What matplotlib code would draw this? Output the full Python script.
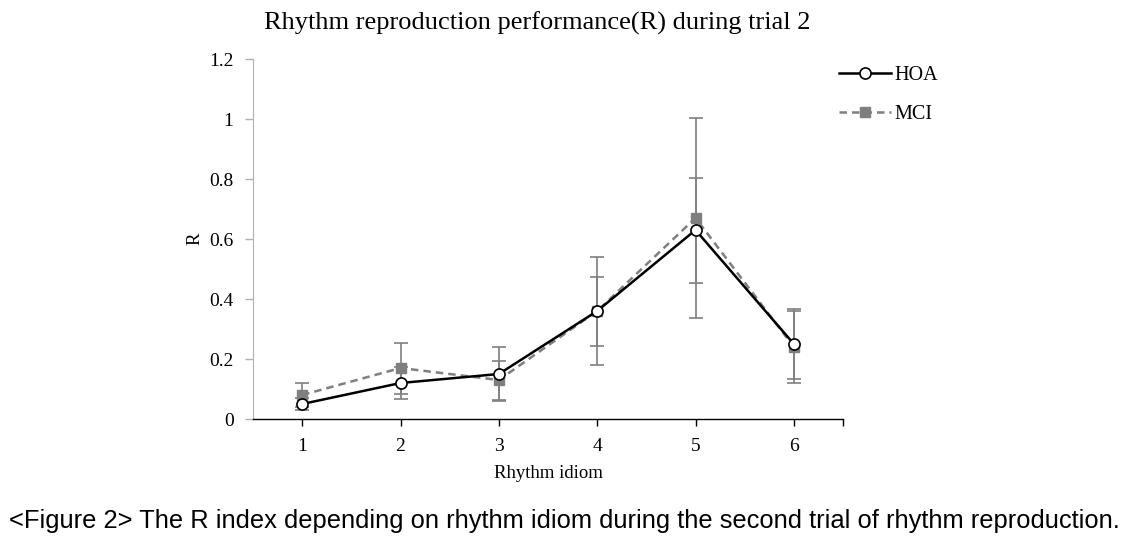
import numpy as np
import matplotlib
matplotlib.use('Agg')
import matplotlib.pyplot as plt

# values
idioms = [1, 2, 3, 4, 5, 6]
hoa_mean = [0.05, 0.12, 0.15, 0.36, 0.63, 0.25]
hoa_err = [0.02, 0.054, 0.09, 0.115, 0.175, 0.116]
mci_mean = [0.08, 0.17, 0.13, 0.36, 0.67, 0.24]
mci_err = [0.04, 0.085, 0.065, 0.18, 0.333, 0.12]
y_ticks = [0, 0.2, 0.4, 0.6, 0.8, 1.0, 1.2]
y_tick_labels = ['0', '0.2', '0.4', '0.6', '0.8', '1', '1.2']

serif = 'Liberation Serif'
gray = '#7f7f7f'

fig = plt.figure(figsize=(11.29, 5.48), dpi=100)
ax = fig.add_axes([0.2241, 0.2354, 0.5226, 0.6569])

# error bars first, then lines on top
ax.errorbar(idioms, mci_mean, yerr=mci_err, fmt='none', ecolor=gray,
            elinewidth=1.2, capsize=5, capthick=1.2, zorder=1)
ax.errorbar(idioms, hoa_mean, yerr=hoa_err, fmt='none', ecolor=gray,
            elinewidth=1.2, capsize=5, capthick=1.2, zorder=1)

ax.plot(idioms, hoa_mean, color='black', lw=1.8, marker='o', ms=8,
        mfc='white', mec='black', mew=1.2, label='HOA', zorder=3)
ax.plot(idioms, mci_mean, color=gray, lw=1.8, ls=(0, (3, 2)), marker='s',
        ms=7.5, mfc=gray, mec=gray, label='MCI', zorder=2)

ax.set_xlim(0.5, 6.5)
ax.set_ylim(0, 1.2)
ax.set_xticks(idioms + [6.5])
ax.set_xticklabels([str(i) for i in idioms] + [''], fontfamily=serif, fontsize=14)
ax.set_yticks(y_ticks)
ax.set_yticklabels(y_tick_labels, fontfamily=serif, fontsize=14)

for s in ['top', 'right']:
    ax.spines[s].set_visible(False)
ax.spines['left'].set_color('#b0b0b0')
ax.spines['bottom'].set_color('black')
ax.spines['bottom'].set_linewidth(1.0)
ax.tick_params(axis='x', direction='out', length=5, width=1, color='black', pad=9)
ax.tick_params(axis='y', direction='out', length=6, width=1, color='#b0b0b0', pad=8)

ax.set_xlabel('Rhythm idiom', fontfamily=serif, fontsize=13.5, labelpad=7)
ax.set_ylabel('R', fontfamily=serif, fontsize=13.5, labelpad=4)

fig.text(0.476, 0.958, 'Rhythm reproduction performance(R) during trial 2',
         ha='center', va='center', fontfamily=serif, fontsize=19)

leg = fig.legend(loc='upper left', bbox_to_anchor=(0.727, 0.912), frameon=False,
                 prop={'family': serif, 'size': 14.5}, handlelength=2.6,
                 handletextpad=0.15, labelspacing=0.95)

fig.text(0.5, 0.05,
         '<Figure 2> The R index depending on rhythm idiom during the second trial of rhythm reproduction.',
         ha='center', va='center', fontfamily=['Liberation Sans Narrow', 'Liberation Sans'],
         fontsize=18.4)

fig.savefig('out.png', dpi=100)
